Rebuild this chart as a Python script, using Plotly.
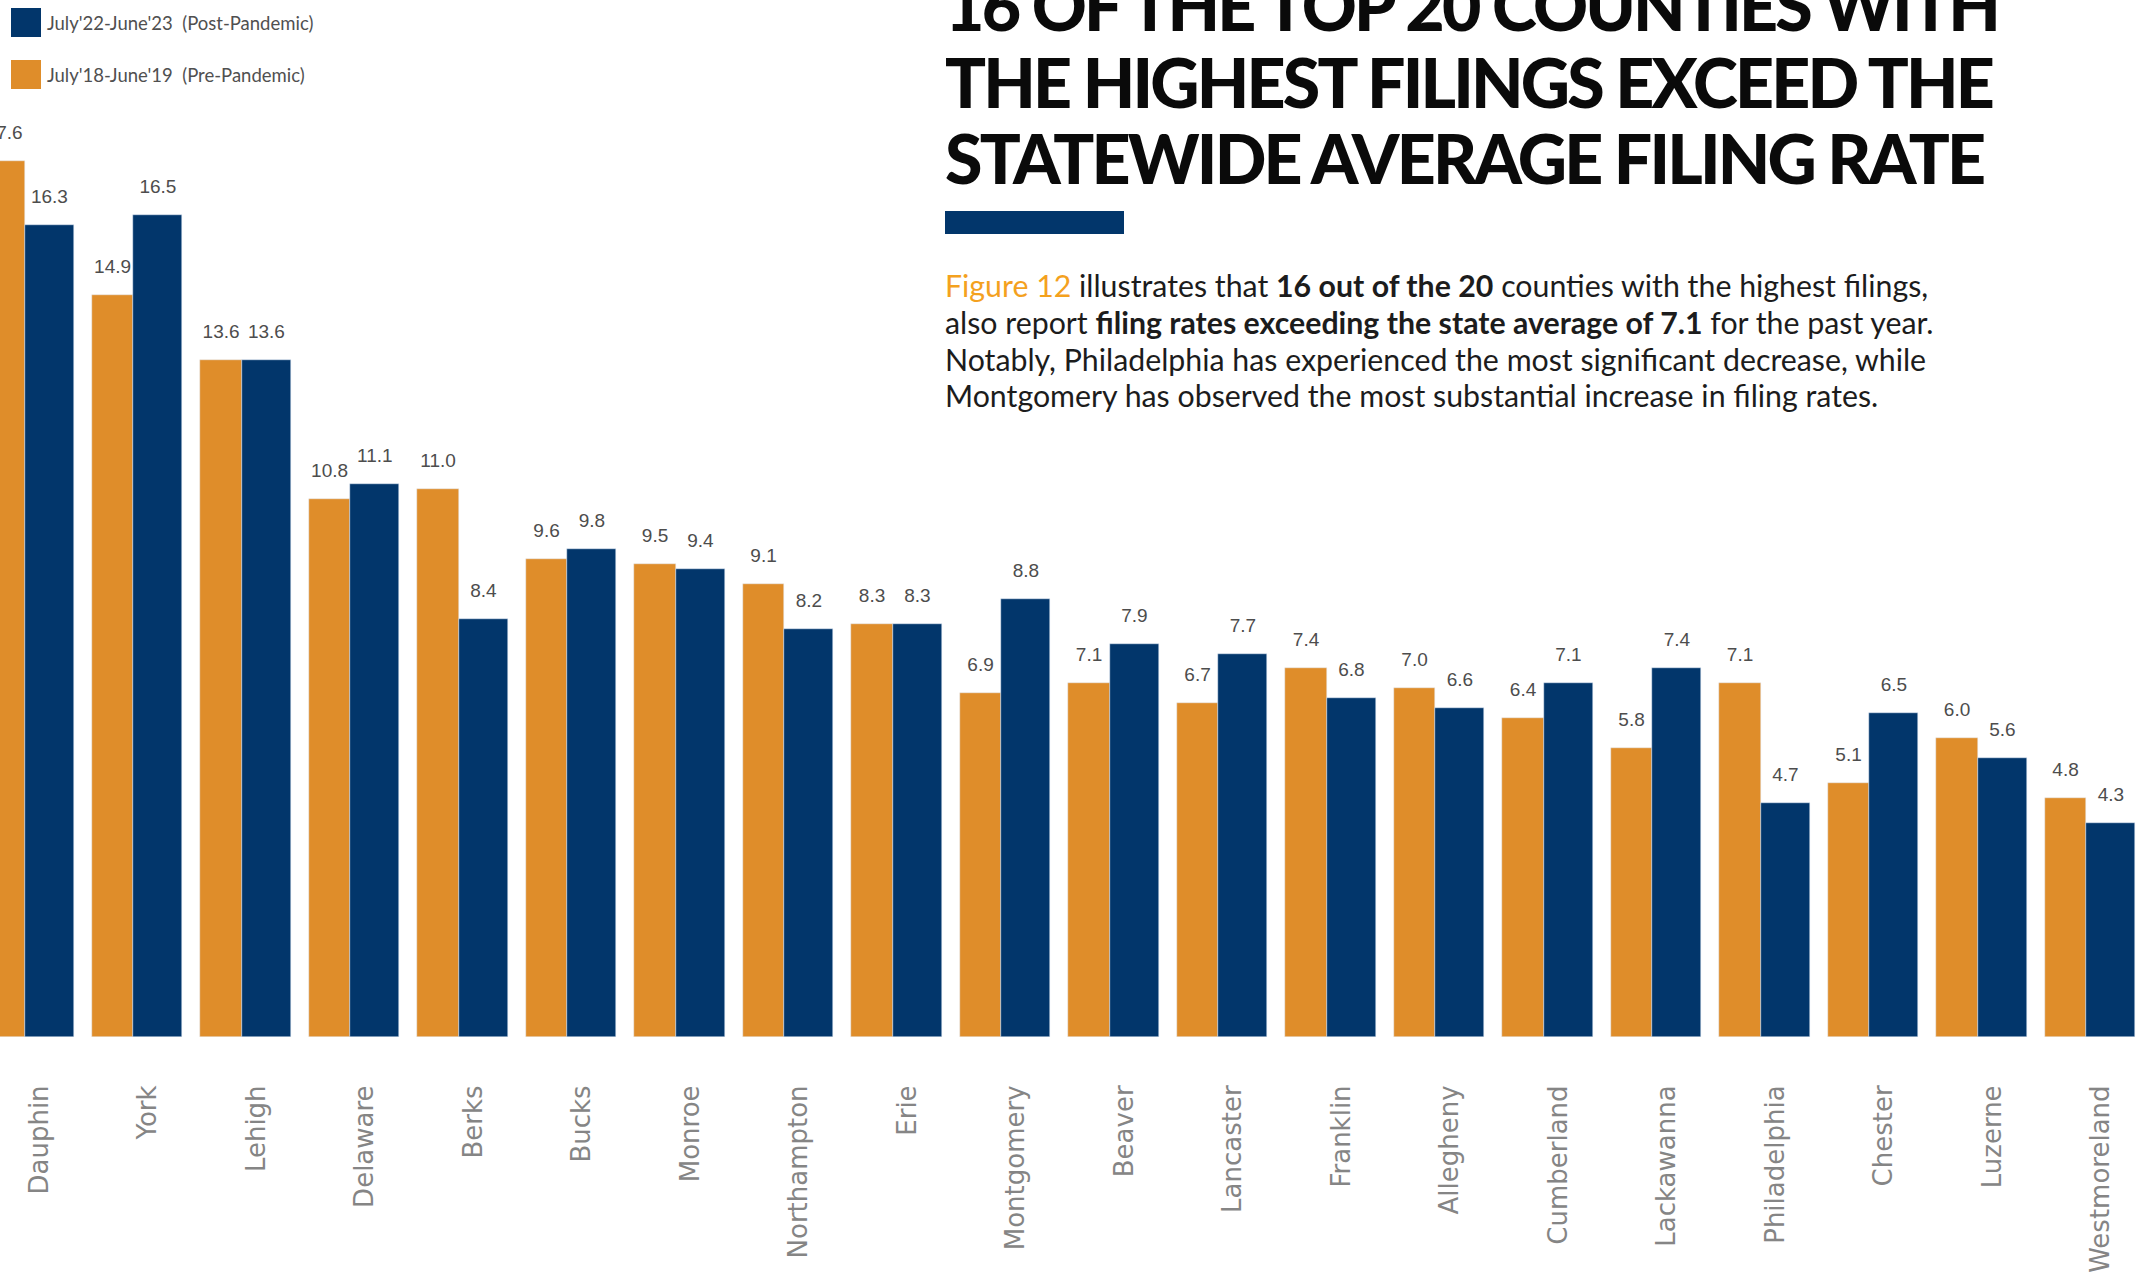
import plotly.graph_objects as go

# County filing rates (filings per 100 renter households)
counties = ["Dauphin", "York", "Lehigh", "Delaware", "Berks", "Bucks", "Monroe",
            "Northampton", "Erie", "Montgomery", "Beaver", "Lancaster", "Franklin",
            "Allegheny", "Cumberland", "Lackawanna", "Philadelphia", "Chester",
            "Luzerne", "Westmoreland"]
pre_pandemic = [17.6, 14.9, 13.6, 10.8, 11.0, 9.6, 9.5, 9.1, 8.3, 6.9, 7.1, 6.7,
                7.4, 7.0, 6.4, 5.8, 7.1, 5.1, 6.0, 4.8]
post_pandemic = [16.3, 16.5, 13.6, 11.1, 8.4, 9.8, 9.4, 8.2, 8.3, 8.8, 7.9, 7.7,
                 6.8, 6.6, 7.1, 7.4, 4.7, 6.5, 5.6, 4.3]

pre_label = "July'18-June'19  (Pre-Pandemic)"
post_label = "July'22-June'23  (Post-Pandemic)"

title_lines = ["16 OF THE TOP 20 COUNTIES WITH",
               "THE HIGHEST FILINGS EXCEED THE",
               "STATEWIDE AVERAGE FILING RATE"]
body_lines = [
    "<span style='color:#F4A11E'>Figure 12</span> illustrates that <b>16 out of the 20</b> counties with the highest filings,",
    "also report <b>filing rates exceeding the state average of 7.1</b> for the past year.",
    "Notably, Philadelphia has experienced the most significant decrease, while",
    "Montgomery has observed the most substantial increase in filing rates.",
]

ORANGE = "#DF8D2A"
NAVY = "#02366B"

W, H = 2136, 1272
PLOT_H = 1037  # pixel row of the bar baseline

# bar geometry in category units
PRE_OFFSET, PRE_WIDTH = -0.515, 0.385
POST_OFFSET, POST_WIDTH = -0.13, 0.45


def px_x(px):
    return px / W


def px_y(py):
    return (PLOT_H - py) / PLOT_H


idx = list(range(len(counties)))
label_font = dict(family="Liberation Sans, Arial", size=19, color="#4d4d4d")

fig = go.Figure()
for values, color, name, off, wid in [
        (pre_pandemic, ORANGE, pre_label, PRE_OFFSET, PRE_WIDTH),
        (post_pandemic, NAVY, post_label, POST_OFFSET, POST_WIDTH)]:
    fig.add_trace(go.Bar(
        x=idx, y=values, name=name, marker_color=color,
        width=wid, offset=off, showlegend=False, hoverinfo="x+y",
    ))
    # value labels sitting above each bar
    fig.add_trace(go.Scatter(
        x=[i + off + wid / 2 for i in idx], y=values, mode="markers+text",
        marker=dict(size=26, opacity=0), text=[f"{v:.1f}" for v in values],
        textposition="top center", textfont=label_font, cliponaxis=False,
        showlegend=False, hoverinfo="skip",
    ))

annotations = []
shapes = []

# Legend swatches and labels
for top, color, text in [(8, NAVY, post_label), (60, ORANGE, pre_label)]:
    shapes.append(dict(type="rect", xref="paper", yref="paper",
                       x0=px_x(11), x1=px_x(41), y0=px_y(top + 29), y1=px_y(top),
                       fillcolor=color, line=dict(width=0)))
    annotations.append(dict(xref="paper", yref="paper", x=px_x(45), y=px_y(top + 14.5),
                            xanchor="left", yanchor="middle", showarrow=False,
                            text=text, font=dict(family="Lato", size=18.5, color="#505050")))

# Headline
for baseline, line in zip([30, 108, 183], title_lines):
    annotations.append(dict(xref="paper", yref="paper", x=px_x(943),
                            y=px_y(baseline - 26), xanchor="left", yanchor="middle",
                            showarrow=False,
                            text=f"<span style='letter-spacing:-2.8px'>{line}</span>",
                            font=dict(family="Lato", size=68, weight=900, color="#0a0a0a")))

# Accent rule under the headline
shapes.append(dict(type="rect", xref="paper", yref="paper",
                   x0=px_x(945), x1=px_x(1124), y0=px_y(234), y1=px_y(211),
                   fillcolor=NAVY, line=dict(width=0)))

# Body copy
for baseline, line in zip([297, 334, 371, 407], body_lines):
    annotations.append(dict(xref="paper", yref="paper", x=px_x(943),
                            y=px_y(baseline - 12), xanchor="left", yanchor="middle",
                            showarrow=False, text=line,
                            font=dict(family="Lato", size=30.3, color="#1c1c1c")))

fig.update_layout(
    width=W, height=H,
    margin=dict(l=0, r=0, t=0, b=H - PLOT_H, autoexpand=False),
    paper_bgcolor="white", plot_bgcolor="white",
    barmode="overlay", bargap=0,
    xaxis=dict(range=[-0.36, -0.36 + W / 108.5], tickmode="array", tickvals=idx,
               ticktext=counties, tickangle=-90, ticks="outside", ticklen=37,
               tickcolor="rgba(0,0,0,0)", showgrid=False, zeroline=False,
               showline=False,
               tickfont=dict(family="DejaVu Sans", size=26, color="#858585")),
    yaxis=dict(range=[0, PLOT_H / 49.8], visible=False, showgrid=False),
    shapes=shapes, annotations=annotations,
)

fig.write_html("out.html")
